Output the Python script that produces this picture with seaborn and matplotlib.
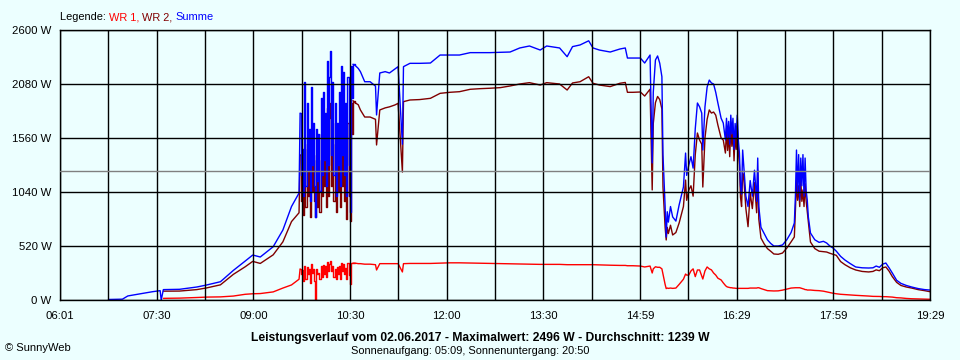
import numpy as np
import pandas as pd
import matplotlib
matplotlib.use("Agg")
import matplotlib.pyplot as plt
import seaborn as sns

nan = np.nan

# Zeit in Minuten nach Mitternacht, Leistung in W
zeit_a = [406, 419, 424, 429, 438, 447, 454, 455, 457, 472, 488, 497, 510, 522,
          533, 540, 547, 559, 568, 576, 583]
summe_a = [5, 8, 39, 48, 64, 80, 90, 0, 100, 103, 125, 144, 176, 285, 375, 433,
           414, 513, 674, 900, 1030]
wr2_a = [nan] * 8 + [85, 86, 100, 116, 146, 247, 320, 372, 352, 435, 560, 755, 840]
wr1_a = [nan] * 8 + [16, 18, 24, 28, 30, 38, 55, 60, 62, 78, 115, 145, 200]

# Wolkenphase am Vormittag, 1-Minuten-Werte
zeit_b = list(range(584, 634))
summe_b = [1800, 1200, 1450, 1000, 2100, 1100, 1900, 1250, 1650, 950,
           2050, 1300, 1700, 1100, 800, 1650, 1150, 1600, 1050, 1950,
           1200, 2000, 1350, 1800, 1100, 2300, 1300, 2150, 2400, 1400,
           2100, 1200, 1900, 1000, 1700, 1300, 2000, 1100, 2250, 1400,
           2200, 1200, 1900, 1000, 2150, 1300, 850, 2250, 1950, 2270]
wr2_b = [1400, 950, 1160, 820, 1450, 900, 1500, 1000, 1300, 800,
         1450, 1050, 1400, 950, 800, 1350, 900, 1350, 850, 1600,
         1000, 1650, 1100, 1450, 900, 1850, 1000, 1750, 1900, 1100,
         1700, 950, 1500, 850, 1350, 1050, 1600, 900, 1800, 1100,
         1700, 950, 1500, 780, 1700, 1000, 760, 1900, 1600, 1920]
wr1_b = [300, 250, 290, 180, 330, 200, 320, 250, 300, 160,
         350, 260, 300, 180, 0, 300, 250, 260, 200, 330,
         220, 340, 250, 330, 220, 370, 280, 350, 380, 280,
         330, 220, 300, 200, 320, 250, 330, 200, 360, 280,
         350, 250, 310, 200, 360, 240, 150, 360, 360, 355]

zeit_c = [635, 638, 640, 644, 649, 654, 655, 658, 663, 667, 672, 675, 679, 680,
          686, 695, 705, 714, 723, 732, 742, 751, 760, 770, 779, 788, 797, 807,
          813, 825, 832, 837, 844, 852, 856, 862, 872, 881, 886, 888, 893, 900,
          904, 909, 911, 912, 914, 916, 918, 920, 921, 923, 924, 925, 926, 928,
          930, 933, 936, 940, 942, 943, 945, 947, 949, 951, 953, 955, 957, 958,
          960, 962, 964, 966, 968, 970, 972, 975, 977, 979, 980, 981, 982, 983,
          984, 985, 986, 987, 988, 989, 990, 991, 992, 993, 994, 995, 996, 998,
          1000, 1002, 1004, 1006, 1008, 1009, 1010, 1012, 1015, 1018, 1021, 1024,
          1028, 1032, 1036, 1040, 1043, 1044, 1045, 1046, 1047, 1048, 1049, 1050,
          1051, 1052, 1053, 1054, 1055, 1056, 1058, 1062, 1066, 1070, 1073, 1076,
          1079, 1082, 1086, 1090, 1095, 1100, 1106, 1112, 1116, 1119, 1122, 1125,
          1128, 1131, 1134, 1138, 1142, 1147, 1152, 1158, 1164, 1169]
summe_c = [2260, 2230, 2199, 2102, 2102, 2060, 1782, 2186, 2199, 2186, 2224, 2247, 1500, 2247,
           2279, 2279, 2282, 2359, 2359, 2359, 2382, 2382, 2382, 2385, 2388, 2427, 2446, 2407,
           2446, 2427, 2343, 2440, 2456, 2496, 2427, 2407, 2388, 2417, 2427, 2330, 2330, 2330,
           2282, 2359, 1320, 2000, 2311, 2350, 2280, 2150, 1400, 900, 606, 850, 750, 900,
           800, 760, 915, 1088, 1415, 1200, 1300, 1380, 1270, 1650, 1897, 1860, 1800, 1444,
           1860, 2050, 2118, 2090, 2080, 2000, 1897, 1750, 1704, 1540, 1750, 1560, 1720, 1500,
           1780, 1600, 1750, 1450, 1700, 1560, 1780, 1540, 1415, 1100, 1020, 1444, 1300, 1000,
           900, 1150, 1000, 1250, 950, 1367, 900, 700, 640, 580, 545, 520,
           520, 530, 580, 650, 741, 1000, 1444, 1030, 1400, 963, 1367, 1100,
           1400, 1000, 1367, 1050, 963, 800, 645, 580, 555, 565, 549, 520,
           500, 470, 420, 385, 350, 318, 310, 308, 310, 327, 315, 345,
           356, 310, 260, 190, 160, 140, 125, 110, 100, 96]
wr2_c = [1900, 1880, 1830, 1762, 1762, 1740, 1493, 1830, 1850, 1860, 1878, 1894, 1232, 1910,
         1926, 1930, 1942, 1990, 2000, 2006, 2029, 2035, 2039, 2045, 2061, 2080, 2093, 2070,
         2093, 2080, 2022, 2090, 2102, 2150, 2087, 2070, 2055, 2087, 2095, 2000, 2000, 2003,
         1964, 2030, 1060, 1700, 1900, 1960, 1930, 1840, 1088, 700, 578, 700, 640, 720,
         626, 650, 741, 900, 1155, 960, 1060, 1100, 1000, 1400, 1608, 1540, 1500, 1088,
         1560, 1740, 1830, 1800, 1810, 1780, 1685, 1560, 1540, 1415, 1650, 1440, 1600, 1380,
         1666, 1480, 1630, 1340, 1590, 1450, 1660, 1430, 1300, 990, 900, 1222, 1180, 880,
         706, 1030, 880, 1130, 840, 1250, 780, 597, 540, 495, 470, 443,
         440, 452, 500, 560, 607, 860, 1155, 960, 1100, 900, 1150, 950,
         1060, 900, 1120, 950, 850, 741, 558, 495, 470, 465, 462, 450,
         440, 430, 370, 340, 310, 289, 275, 270, 275, 290, 282, 310,
         318, 278, 225, 170, 140, 125, 115, 100, 90, 80]
wr1_c = [355, 350, 350, 345, 345, 340, 289, 350, 350, 350, 350, 350, 270, 350,
         352, 352, 352, 355, 358, 358, 356, 355, 352, 350, 348, 347, 345, 343,
         343, 343, 340, 340, 340, 340, 340, 338, 335, 333, 333, 330, 330, 327,
         318, 327, 260, 300, 320, 315, 315, 300, 250, 150, 110, 115, 112, 115,
         112, 115, 150, 200, 250, 240, 240, 280, 300, 225, 289, 289, 230, 202,
         280, 318, 300, 290, 260, 240, 210, 193, 165, 140, 130, 125, 122, 120,
         118, 118, 115, 115, 113, 112, 112, 112, 112, 112, 112, 112, 112, 112,
         112, 115, 115, 115, 115, 118, 118, 110, 100, 90, 88, 87,
         88, 95, 105, 115, 118, 118, 118, 118, 118, 118, 115, 112,
         110, 105, 100, 100, 96, 96, 96, 92, 90, 85, 78, 70,
         65, 60, 55, 52, 48, 45, 42, 38, 35, 35, 34, 32,
         32, 30, 28, 22, 20, 15, 12, 10, 8, 7]

durchschnitt = 1239
x_labels = ["06:01", "07:30", "09:00", "10:30", "12:00", "13:30", "14:59", "16:29", "17:59", "19:29"]
y_werte = [0, 520, 1040, 1560, 2080, 2600]

df = pd.DataFrame({
    "zeit": zeit_a + zeit_b + zeit_c,
    "Summe": summe_a + summe_b + summe_c,
    "WR 2": wr2_a + wr2_b + wr2_c,
    "WR 1": wr1_a + wr1_b + wr1_c,
})

bg = "#ECFFFF"
sns.set_style("white")
plt.rcParams["font.family"] = ["Liberation Sans", "DejaVu Sans"]

fig = plt.figure(figsize=(9.6, 3.6), dpi=100, facecolor=bg)
ax = fig.add_axes([60 / 960, 60 / 360, 870 / 960, 270 / 360])
ax.set_facecolor(bg)

# Abschnitte: ruhige Teile als Linie, Wolkenphase als Treppe (wie im Original)
b0, b1 = zeit_b[0], zeit_b[-1]
teile = [
    (df[df["zeit"] <= b0], "default"),
    (df[(df["zeit"] >= b0) & (df["zeit"] <= zeit_c[0])], "steps-post"),
    (df[df["zeit"] >= b1], "default"),
]
farben = {"WR 1": "#FF0000", "WR 2": "#800000", "Summe": "#0000FF"}
for name in ["WR 1", "WR 2", "Summe"]:
    for teil, stil in teile:
        sns.lineplot(data=teil, x="zeit", y=name, color=farben[name], linewidth=1.0,
                     estimator=None, ax=ax, zorder=2, drawstyle=stil)

ax.axhline(durchschnitt, color="#808080", linewidth=1.0, zorder=3)

t0, t1 = 361, 1169
ax.set_xlim(t0, t1)
ax.set_ylim(0, 2600)
schritt = (t1 - t0) / 18
ax.set_xticks([t0 + 2 * k * schritt for k in range(10)])
ax.set_xticklabels(x_labels)
ax.set_xticks([t0 + (2 * k + 1) * schritt for k in range(9)], minor=True)
ax.set_yticks(y_werte)
ax.set_yticklabels([f"{v} W" for v in y_werte])
ax.set_axisbelow(False)
ax.grid(True, which="both", axis="x", color="black", linewidth=1.0)
ax.grid(True, which="major", axis="y", color="black", linewidth=1.0)
ax.tick_params(axis="both", which="major", length=3, width=1, color="black",
               labelsize=8.2, labelcolor="black", pad=3)
ax.tick_params(axis="x", which="major", pad=5)
ax.tick_params(axis="x", which="minor", length=0)
for s in ax.spines.values():
    s.set_color("black")
    s.set_linewidth(1.0)
ax.set_xlabel("")
ax.set_ylabel("")

# Legende oben links
renderer = fig.canvas.get_renderer()
x = 60
for text, col in [("Legende: ", "black"), ("WR 1, ", "#FF0000"),
                  ("WR 2, ", "#800000"), ("Summe", "#0000FF")]:
    t = fig.text(x / 960, 1 - 17 / 360, text, color=col, fontsize=7.9, va="center", ha="left")
    bb = t.get_window_extent(renderer)
    x += bb.width

fig.text(0.5, 1 - 338 / 360,
         "Leistungsverlauf vom 02.06.2017 - Maximalwert: 2496 W - Durchschnitt: 1239 W",
         ha="center", va="center", fontsize=8.7, fontweight="bold", color="black")
fig.text(0.49, 1 - 351 / 360, "Sonnenaufgang: 05:09, Sonnenuntergang: 20:50",
         ha="center", va="center", fontsize=7.9, color="black")
fig.text(5 / 960, 1 - 348 / 360, "© SunnyWeb", ha="left", va="center",
         fontsize=8, color="black")

plt.savefig("out.png", dpi=100, facecolor=bg)
plt.close()
